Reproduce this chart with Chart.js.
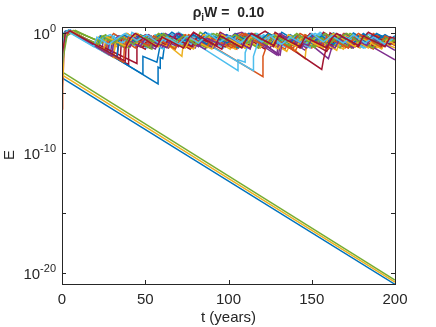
<!DOCTYPE html>
<html>
<head>
<meta charset="utf-8">
<script src="https://cdn.jsdelivr.net/npm/chart.js@4.4.1/dist/chart.umd.min.js"></script>
<style>
  html, body { margin: 0; padding: 0; background: #fff; }
  #wrap { width: 436px; height: 327px; }
</style>
</head>
<body>
<div id="wrap"><canvas id="grafico" width="436" height="327"></canvas></div>
<script>
// each run: [t (years), log10 E] corner points
var run00 = [[0,-3.7],[200,-20.9]];
var run01 = [[0,-6.3],[0.4,-4.5],[1.5,-0.6],[3.5,0.2],[27,-1.6],[27,-0.4],[38,-1.1],[41,-0.2],[55,-1.0],[58,-0.1],[70,-0.9],[74,-0.2],[86,-1.1],[89,-0.3],[104,-1.2],[107,-0.1],[118,-0.8],[121,-0.2],[134,-1.3],[137,-0.4],[150,-1.2],[153,-0.2],[166,-0.9],[169,0.0],[183,-1.0],[186,-0.3],[200,-0.9]];
var run02 = [[0,-3.45],[200,-20.72]];
var run03 = [[0,-1.2],[2,0.1],[5,0.22],[24,-1.4],[25,-0.3],[33,-0.9],[36,-0.2],[47,-1.0],[49,-0.5],[52,-0.1],[64,-1.1],[66,-0.4],[75,-0.9],[79,0.05],[92,-1.0],[94,-0.3],[103,-0.7],[107,-0.1],[118,-1.2],[121,-0.6],[124,-0.2],[131,-0.7],[133,-0.3],[146,-1.4],[149,-0.5],[158,-1.0],[161,-0.2],[174,-1.2],[176,-0.4],[188,-1.1],[191,-0.3],[200,-0.8]];
var run04 = [[0.5,-3.25],[200,-20.55]];
var run05 = [[0,-1.4],[1,-0.1],[4,0.25],[30,-1.7],[31,-0.3],[40,-0.8],[42,0.1],[56,-1.0],[58,-0.2],[66,-0.5],[70,0.1],[82,-0.9],[85,-0.3],[97,-1.2],[99,-0.4],[108,-0.9],[110,0.0],[123,-1.1],[126,-0.2],[137,-0.9],[140,-0.1],[151,-0.8],[155,0.1],[167,-1.0],[170,-0.3],[180,-0.8],[183,0.0],[195,-0.9],[200,-0.5]];
var run06 = [[0,-2.2],[2.5,0.0],[6,0.2],[35,-2.2],[35.5,-1.0],[38,-0.4],[50,-1.3],[53,-0.2],[62,-0.8],[64,-0.3],[77,-1.3],[80,-0.4],[91,-1.0],[95,0.1],[106,-0.8],[109,-0.2],[122,-1.3],[125,-0.5],[128,-0.1],[142,-1.1],[145,-0.3],[154,-0.7],[157,0.1],[170,-1.0],[173,-0.2],[185,-1.1],[188,-0.1],[200,-0.7]];
var run07 = [[0,-2.0],[1.5,-0.3],[4,0.25],[48.6,-3.4],[48.6,-1.9],[57,-2.4],[58.5,-1.3],[60,-0.2],[68,-0.8],[71,-0.1],[83,-1.0],[86,-0.2],[99,-1.1],[101,-0.5],[104,0.0],[117,-1.1],[120,-0.3],[129,-0.8],[132,0.1],[145,-1.0],[148,-0.2],[160,-1.1],[163,-0.3],[171,-0.8],[175,0.05],[187,-0.9],[190,-0.1],[200,-0.6]];
var run08 = [[0,-1.8],[2,0.1],[5,0.2],[22,-1.2],[24,-0.3],[34,-1.0],[36,-0.5],[39,0.0],[52,-1.1],[55,-0.4],[63,-0.9],[66,-0.1],[78,-1.2],[80,-0.5],[88,-0.9],[92,-0.1],[105,-1.3],[107,-0.4],[113,-0.7],[116,-0.1],[129,-1.1],[131,-0.3],[143,-1.2],[146,-0.4],[156,-0.9],[159,-0.1],[172,-1.2],[175,-0.4],[184,-0.8],[187,0.0],[200,-1.0]];
var run09 = [[0,-3.2],[0.6,-1.5],[2,0.15],[6,0.2],[28,-1.6],[29,-0.6],[36,-1.0],[40,-0.2],[51,-1.0],[54,-0.4],[57,-0.2],[72,-1.9],[73,-0.6],[76,-0.1],[90,-1.2],[93,-0.4],[104,-1.3],[106,-0.3],[119,-1.2],[122,-0.4],[128,0.0],[146,-2.1],[147,-0.7],[150,-0.2],[163,-1.1],[166,-0.3],[179,-1.2],[182,-0.4],[193,-1.0],[200,-0.7]];
var run10 = [[0,-0.9],[2,0.15],[5,0.2],[29,-1.7],[30,-0.8],[33,-0.3],[44,-1.0],[47,-0.2],[60,-1.2],[63,-0.5],[66,-0.1],[80,-1.2],[82,-0.6],[85,-0.1],[98,-1.1],[101,-0.3],[110,-0.8],[113,0.0],[130,-1.8],[131,-0.9],[134,-0.3],[147,-1.2],[150,-0.4],[162,-1.3],[164,-0.5],[167,-0.1],[180,-1.1],[183,-0.3],[195,-1.0],[200,-0.6]];
var run11 = [[0,-2.6],[1,-1.2],[3.5,0.1],[7,0.25],[23.5,-0.7],[26,-0.1],[39,-1.1],[41,-0.4],[54,-1.3],[56,-0.3],[68,-1.2],[71,-0.2],[80,-0.7],[83,0.1],[96,-1.0],[99,-0.4],[110,-1.2],[113,-0.4],[116,0.0],[129,-1.0],[132,-0.2],[143,-0.9],[146,-0.1],[159,-1.1],[162,-0.4],[174,-1.2],[177,-0.3],[190,-1.1],[193,-0.3],[200,-0.6]];
var run12 = [[0,-1.0],[1,0.0],[4,0.2],[26,-1.6],[27,-0.5],[35,-1.0],[38,-0.2],[51,-1.2],[53,-0.5],[56,-0.1],[68,-1.0],[72,-0.1],[105.7,-3.1],[105.7,-2.2],[110,-2.4],[110,-1.6],[113,-0.5],[117,0.0],[129,-1.0],[131,-0.3],[144,-1.2],[147,-0.4],[152,0.0],[165,-1.0],[168,-0.2],[181,-1.2],[184,-0.4],[196,-1.0],[200,-0.4]];
var run13 = [[0,-1.6],[2,0.0],[5,0.2],[40,-2.6],[40,-1.2],[42,-0.5],[53,-1.2],[56,-0.3],[65,-0.8],[68,-0.1],[80,-1.0],[83,-0.3],[96,-1.3],[98,-0.6],[101,-0.2],[113,-1.0],[116,-0.3],[125,-0.8],[128,0.1],[141,-1.0],[144,-0.3],[159,-1.5],[162,-0.6],[165,-0.1],[177,-0.9],[180,-0.2],[192,-1.1],[195,-0.4],[200,-0.6]];
var run14 = [[0,-1.5],[2,0.2],[5,0.28],[57.7,-4.2],[57.7,-2.8],[59,-2.9],[59,-2.0],[60.5,-2.1],[62,-0.5],[64,-0.1],[76,-0.9],[79,-0.2],[91,-1.0],[93,-0.3],[106,-1.2],[109,-0.4],[112,0.0],[124,-0.9],[127,-0.2],[139,-1.0],[142,-0.3],[153,-1.0],[156,-0.1],[168,-0.9],[171,-0.3],[183,-1.1],[186,-0.2],[197,-0.8],[200,-0.3]];
var run15 = [[0,-2.4],[1.5,-0.5],[4,0.15],[31,-1.9],[32,-0.7],[35,-0.2],[47,-1.1],[50,-0.3],[62,-1.1],[65,-0.4],[77,-1.2],[80,-0.2],[120.7,-3.6],[120.7,-1.9],[123,-1.0],[126,-0.3],[139,-1.2],[142,-0.4],[154,-1.1],[157,-0.2],[170,-1.2],[173,-0.4],[187,-1.3],[190,-0.4],[200,-0.9]];
var run16 = [[0,-1.3],[1.5,0.0],[5,0.18],[20,-1.1],[22,-0.3],[33,-1.1],[36,-0.4],[39,0.0],[52,-1.1],[55,-0.3],[67,-1.2],[70,-0.5],[73,-0.1],[86,-1.1],[89,-0.3],[101,-1.3],[103,-0.5],[106,-0.1],[119,-1.2],[122,-0.4],[135,-1.5],[138,-0.6],[141,-0.1],[154,-1.0],[157,-0.3],[169,-1.3],[172,-0.5],[175,-0.1],[189,-1.2],[192,-0.4],[200,-0.9]];
var run17 = [[0,-1.7],[2,0.05],[5,0.2],[25,-1.5],[27,-0.4],[38,-1.2],[40,-0.5],[43,-0.1],[56,-1.1],[58,-0.4],[70,-1.1],[73,-0.3],[86,-1.3],[89,-0.4],[100,-1.0],[103,-0.1],[108,0.1],[129,-1.8],[130,-0.8],[133,-0.2],[141,-0.9],[144,-0.3],[160,-2.1],[162,-1.2],[165,-0.3],[172,-0.8],[175,-0.2],[200,-2.2]];
var run18 = [[0,-3.0],[1,-1.8],[3,-0.2],[8,0.25],[24,-0.8],[27,-0.2],[40,-1.2],[42,-0.5],[45,0.0],[58,-1.0],[61,-0.2],[73,-1.1],[76,-0.3],[88,-1.1],[91,-0.2],[103,-1.0],[106,-0.3],[118,-1.2],[121,-0.4],[124,0.0],[137,-1.0],[140,-0.2],[152,-1.1],[155,-0.3],[167,-1.2],[170,-0.4],[173,0.0],[186,-1.0],[189,-0.3],[200,-0.8]];
var run19 = [[0,-0.7],[1.5,0.1],[4,0.22],[28,-1.8],[29,-0.6],[32,-0.1],[45,-1.1],[48,-0.4],[61,-1.3],[63,-0.5],[66,-0.1],[78,-0.9],[80,-0.3],[115,-3.1],[115,-1.9],[118,-0.6],[121,-0.1],[134,-1.1],[137,-0.3],[149,-1.2],[151,-0.5],[154,0.0],[167,-1.0],[170,-0.3],[182,-1.2],[185,-0.4],[197,-1.0],[200,-0.5]];
var run20 = [[0,-2.0],[2,-0.1],[6,0.2],[33,-2.0],[34,-0.9],[37,-0.3],[49,-1.1],[52,-0.3],[64,-1.2],[67,-0.4],[70,0.0],[83,-1.0],[86,-0.2],[98,-1.1],[101,-0.4],[113,-1.2],[116,-0.3],[122,0.2],[156,-3.0],[157,-2.2],[161,0.05],[173,-0.9],[176,-0.2],[188,-1.1],[191,-0.3],[200,-0.7]];
var run21 = [[0,-1.1],[1.5,0.1],[4,0.25],[21,-1.1],[23,-0.2],[30,-0.7],[35,-0.2],[42,-0.8],[47,-0.1],[54,-0.6],[60,0.0],[67,-0.7],[72,-0.1],[80,-0.7],[86,0.1],[93,-0.5],[99,-0.1],[106,-0.8],[111,-0.2],[118,-0.7],[124,0.0],[131,-0.6],[137,-0.1],[145,-0.8],[150,-0.2],[157,-0.7],[163,0.05],[170,-0.6],[176,-0.1],[183,-0.7],[189,0.0],[196,-0.6],[200,-0.2]];
var run22 = [[0,-1.9],[1.5,-0.2],[4.5,0.15],[26,-1.5],[28,-0.5],[31,0.0],[44,-1.2],[47,-0.5],[58,-1.0],[61,-0.2],[73,-0.9],[76,-0.1],[89,-1.0],[92,-0.3],[104,-1.1],[107,-0.5],[110,0.0],[123,-1.0],[126,-0.3],[140,-1.5],[143,-0.6],[146,-0.1],[160,-1.3],[163,-0.4],[176,-1.1],[179,-0.2],[192,-1.2],[195,-0.5],[200,-0.6]];
var run23 = [[0,-3.5],[0.5,-2.0],[1.5,0.0],[5,0.22],[31,-2.0],[32,-0.8],[35,-0.2],[48,-1.0],[51,-0.2],[64,-1.1],[66,-0.3],[79,-1.3],[82,-0.6],[85,-0.1],[98,-1.0],[101,-0.3],[113,-1.1],[116,-0.2],[130,-1.3],[133,-0.6],[136,-0.1],[149,-1.0],[152,-0.3],[165,-1.4],[167,-0.6],[170,-0.1],[184,-1.2],[187,-0.5],[200,-1.2]];
var run24 = [[0,-0.6],[2,0.1],[5,0.18],[27,-1.6],[29,-0.5],[41,-1.1],[43,-0.3],[56,-1.3],[59,-0.5],[62,0.0],[75,-1.0],[78,-0.3],[91,-1.2],[93,-0.5],[96,0.0],[109,-1.0],[112,-0.3],[125,-1.2],[128,-0.4],[131,0.0],[144,-1.2],[147,-0.4],[159,-1.0],[162,-0.2],[175,-1.2],[178,-0.5],[181,-0.1],[194,-1.0],[197,-0.3],[200,-0.5]];
var run25 = [[0,-2.2],[1,-0.9],[3,0.1],[6.6,0.25],[23.5,-0.7],[25,-0.2],[37,-1.1],[40,-0.3],[53,-1.2],[55,-0.4],[58,0.0],[71,-1.0],[74,-0.3],[87,-1.2],[90,-0.5],[93,0.0],[106,-1.1],[109,-0.3],[121,-0.9],[124,-0.1],[137,-1.1],[140,-0.4],[152,-1.2],[155,-0.4],[158,0.0],[171,-1.1],[174,-0.3],[187,-1.2],[190,-0.4],[200,-0.7]];
var run26 = [[0,-0.8],[1,0.0],[3.5,0.2],[22,-1.3],[24,-0.4],[29,-0.1],[36,-0.8],[41,-0.3],[48,-0.9],[53,-0.2],[60,-0.8],[65,-0.3],[72,-0.9],[77,-0.2],[84,-0.6],[90,0.0],[97,-0.7],[102,-0.2],[109,-0.9],[114,-0.3],[121,-0.8],[127,-0.1],[134,-0.7],[139,-0.2],[146,-0.9],[151,-0.3],[158,-0.7],[164,0.0],[171,-0.8],[176,-0.2],[183,-0.9],[188,-0.3],[195,-0.8],[200,-0.4]];
var run27 = [[0,-1.3],[2,0.05],[5,0.2],[45,-2.5],[45,-1.2],[47,-0.6],[50,-0.1],[62,-0.9],[65,-0.2],[78,-1.1],[81,-0.3],[93,-1.0],[96,-0.2],[108,-1.1],[111,-0.4],[114,0.0],[127,-1.1],[130,-0.3],[143,-1.2],[146,-0.5],[149,0.0],[162,-1.0],[165,-0.3],[178,-1.1],[181,-0.4],[184,0.1],[197,-0.9],[200,-0.7]];
var run28 = [[0,-2.8],[1,-1.0],[3,0.15],[6,0.2],[33,-2.0],[34,-0.6],[37,-0.1],[44,-0.7],[49,-0.2],[57,-0.9],[62,-0.4],[66,0.1],[74,-0.6],[79,-0.1],[87,-0.9],[92,-0.3],[99,-0.8],[105,-0.1],[112,-0.7],[117,-0.2],[125,-0.9],[130,-0.3],[137,-0.8],[142,-0.1],[150,-0.8],[156,-0.2],[163,-0.9],[168,-0.3],[175,-0.8],[181,0.0],[188,-0.7],[194,-0.1],[200,-0.6]];
var run29 = [[0,-2.0],[1.5,-0.3],[4.5,0.2],[37,-2.4],[37.5,-1.0],[40,-0.3],[52,-1.0],[55,-0.2],[68,-1.3],[71,-0.5],[74,-0.1],[87,-1.1],[90,-0.4],[102,-1.2],[105,-0.4],[108,0.0],[121,-1.0],[124,-0.2],[137,-1.2],[140,-0.5],[143,0.0],[156,-1.0],[159,-0.3],[172,-1.2],[175,-0.4],[178,0.0],[191,-1.0],[194,-0.2],[200,-0.6]];
var run30 = [[0,-2.9],[0.7,-1.2],[2.5,0.1],[6,0.2],[25,-1.3],[27,-0.3],[39,-1.1],[42,-0.4],[45,0.0],[58,-1.1],[61,-0.3],[74,-1.2],[77,-0.4],[90,-1.3],[93,-0.5],[96,-0.1],[110,-1.2],[113,-0.3],[126,-1.0],[129,-0.2],[141,-1.1],[144,-0.3],[157,-1.2],[160,-0.4],[163,0.0],[176,-1.1],[179,-0.3],[192,-1.3],[195,-0.5],[200,-0.9]];
var run31 = [[0,-1.4],[2,0.1],[5,0.2],[30,-1.9],[31,-0.7],[34,-0.2],[47,-1.1],[50,-0.4],[63,-1.2],[66,-0.4],[69,0.0],[82,-1.1],[85,-0.3],[97,-1.0],[100,-0.2],[113,-1.3],[115,-0.3],[131,-1.8],[132,-0.9],[135,-0.3],[148,-1.0],[151,-0.2],[164,-1.2],[167,-0.4],[170,0.0],[183,-1.0],[186,-0.3],[200,-1.4]];
var run32 = [[0,-1.0],[1,-0.1],[3.5,0.2],[22,-0.9],[24,-0.2],[31,-0.8],[36,-0.3],[43,-0.9],[48,-0.2],[55,-0.7],[61,0.0],[68,-0.7],[73,-0.2],[80,-0.9],[85,-0.4],[91,0.0],[98,-0.6],[104,-0.1],[111,-0.8],[116,-0.3],[123,-0.9],[128,-0.2],[135,-0.7],[141,0.0],[148,-0.7],[153,-0.2],[160,-0.9],[165,-0.4],[171,0.0],[178,-0.7],[183,-0.2],[190,-0.9],[195,-0.4],[200,-0.6]];
var run33 = [[0,-2.2],[1,-0.5],[3,0.2],[19,-1.1],[21,-0.3],[28,-0.9],[33,-0.4],[38,0.0],[45,-0.6],[51,-0.1],[58,-0.8],[63,-0.3],[70,-0.9],[75,-0.2],[82,-0.8],[88,0.0],[95,-0.7],[100,-0.2],[107,-0.8],[113,-0.1],[120,-0.7],[125,-0.2],[132,-0.9],[137,-0.3],[144,-0.8],[150,0.0],[157,-0.7],[162,-0.2],[169,-0.8],[175,-0.1],[182,-0.8],[187,-0.3],[194,-0.9],[200,-0.3]];
var run34 = [[0,-1.9],[2,0.0],[5,0.2],[38,-2.3],[38.5,-1.1],[41,-0.4],[44,0.0],[57,-1.1],[60,-0.3],[73,-1.2],[76,-0.4],[79,0.1],[92,-1.0],[95,-0.2],[108,-1.2],[111,-0.4],[114,0.0],[127,-1.0],[130,-0.2],[143,-1.1],[146,-0.3],[159,-1.2],[162,-0.4],[165,0.0],[178,-1.0],[181,-0.2],[194,-1.1],[197,-0.3],[200,-0.4]];

var runs = [run00, run01, run02, run03, run04, run05, run06, run07, run08, run09,
            run10, run11, run12, run13, run14, run15, run16, run17, run18, run19,
            run20, run21, run22, run23, run24, run25, run26, run27, run28, run29,
            run30, run31, run32, run33, run34];

var lineColors = ["#0072BD", "#D95319", "#EDB120", "#7E2F8E", "#77AC30", "#4DBEEE", "#A2142F"];
var xTicks = [0, 50, 100, 150, 200];
var yTickExp = [0, -5, -10, -15, -20];
var yLabelExp = [0, -10, -20];
var titlePre = "\u03C1", titleSub = "i", titlePost = "W =  0.10";

var fonte = '"Liberation Sans", Arial, Helvetica, sans-serif';
var corEixo = "#262626";

var datasets = runs.map(function (r, i) {
    return {
        data: r.map(function (p) { return { x: p[0], y: Math.pow(10, p[1]) }; }),
        borderColor: lineColors[i % 7],
        borderWidth: 1.5,
        pointRadius: 0,
        tension: 0,
        fill: false,
        order: -i
    };
});

var eixos = {
    id: 'eixos',
    afterDraw: function (chart) {
        var ctx = chart.ctx;
        var a = chart.chartArea;
        var sx = chart.scales.x, sy = chart.scales.y;
        ctx.save();
        ctx.strokeStyle = corEixo;
        ctx.lineWidth = 1;
        ctx.strokeRect(a.left + 0.5, a.top + 0.5, a.right - a.left, a.bottom - a.top);
        ctx.beginPath();
        xTicks.forEach(function (t) {
            var px = Math.round(sx.getPixelForValue(t)) + 0.5;
            ctx.moveTo(px, a.bottom); ctx.lineTo(px, a.bottom - 4);
            ctx.moveTo(px, a.top); ctx.lineTo(px, a.top + 4);
        });
        yTickExp.forEach(function (e) {
            var py = Math.round(sy.getPixelForValue(Math.pow(10, e))) + 0.5;
            ctx.moveTo(a.left, py); ctx.lineTo(a.left + 4, py);
            ctx.moveTo(a.right, py); ctx.lineTo(a.right - 4, py);
        });
        ctx.stroke();

        ctx.fillStyle = corEixo;
        ctx.font = '15px ' + fonte;
        ctx.textAlign = 'center';
        ctx.textBaseline = 'middle';
        xTicks.forEach(function (t) {
            ctx.fillText(String(t), sx.getPixelForValue(t), 300);
        });
        ctx.fillText('t (years)', (a.left + a.right) / 2, 318);

        // 10^n labels with superscript
        yLabelExp.forEach(function (e) {
            var py = sy.getPixelForValue(Math.pow(10, e));
            var sup = String(e);
            ctx.font = '11px ' + fonte;
            var ws = ctx.measureText(sup).width;
            ctx.textAlign = 'left';
            ctx.textBaseline = 'alphabetic';
            var xs = a.left - 6 - ws;
            ctx.fillText(sup, xs, py - 1);
            ctx.font = '15px ' + fonte;
            ctx.textAlign = 'right';
            ctx.fillText('10', xs, py + 6);
        });

        ctx.save();
        ctx.translate(10, 155);
        ctx.rotate(-Math.PI / 2);
        ctx.textAlign = 'center';
        ctx.textBaseline = 'middle';
        ctx.font = '15px ' + fonte;
        ctx.fillText('E', 0, 0);
        ctx.restore();

        // title with subscript
        ctx.textBaseline = 'alphabetic';
        ctx.textAlign = 'left';
        ctx.font = 'bold 14px ' + fonte;
        var w1 = ctx.measureText(titlePre).width;
        var w3 = ctx.measureText(titlePost).width;
        ctx.font = 'bold 10px ' + fonte;
        var w2 = ctx.measureText(titleSub).width;
        var x0 = (a.left + a.right) / 2 - (w1 + w2 + w3) / 2;
        ctx.font = 'bold 14px ' + fonte;
        ctx.fillText(titlePre, x0, 17);
        ctx.font = 'bold 10px ' + fonte;
        ctx.fillText(titleSub, x0 + w1, 21);
        ctx.font = 'bold 14px ' + fonte;
        ctx.fillText(titlePost, x0 + w1 + w2, 17);
        ctx.restore();
    }
};

var ctx = document.getElementById('grafico').getContext('2d');
var grafico = new Chart(ctx, {
    type: 'line',
    data: { datasets: datasets },
    options: {
        responsive: false,
        animation: false,
        events: [],
        layout: { padding: { left: 62, right: 41, top: 27, bottom: 43 } },
        plugins: { legend: { display: false }, title: { display: false }, tooltip: { enabled: false } },
        scales: {
            x: { type: 'linear', min: 0, max: 200, display: false },
            y: { type: 'logarithmic', min: Math.pow(10, -20.875), max: Math.pow(10, 0.54), display: false }
        }
    },
    plugins: [eixos]
});
</script>
</body>
</html>
